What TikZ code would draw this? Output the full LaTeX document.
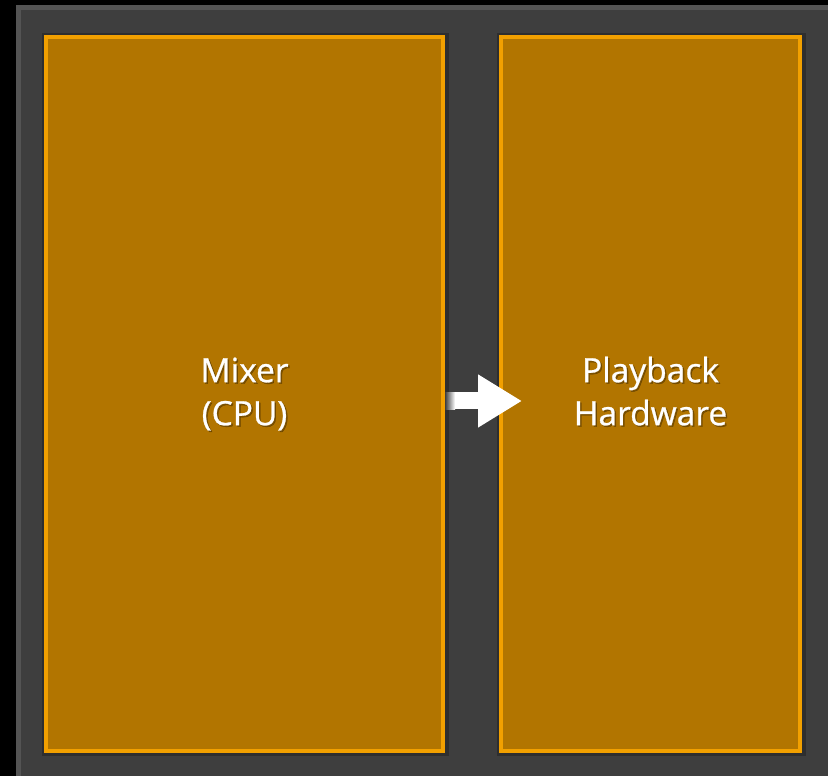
\documentclass[tikz,border=0pt]{standalone}
\usepackage{fontspec}
\setmainfont{Open Sans}
\newfontfamily\labelfont[FakeBold=0.8]{Open Sans}
\usetikzlibrary{arrows.meta}
\definecolor{panelgrey}{HTML}{3E3E3E}
\definecolor{paneledge}{HTML}{545454}
\definecolor{boxfill}{HTML}{B27500}
\definecolor{boxedge}{HTML}{F2A000}
\tikzset{
  unit/.style={draw=boxedge, fill=boxfill, line width=4pt, rectangle,
    minimum height=714pt, inner sep=0pt},
  caption/.style={align=center, inner sep=0pt, text height=30pt, text depth=55pt,
    font=\labelfont\fontsize{33.5}{43}\selectfont},
  flow/.style={draw=white, line width=17pt,
    -{Triangle[length=44pt,width=50pt]}},
}
\begin{document}
\begin{tikzpicture}[x=1pt,y=1pt]
  % black page and grey panel
  \fill[black] (0,0) rectangle (828,776);
  \useasboundingbox (0,0) rectangle (828,776);
  \fill[paneledge] (16,0) rectangle (828,771);
  \fill[panelgrey] (21,0) rectangle (828,766);
  % soft shadows behind the two units
  \fill[black, opacity=0.25] (42,20) rectangle (449,743);
  \fill[black, opacity=0.25] (497,20) rectangle (806,743);
  % the two units
  \node[unit, minimum width=397pt] (mix) at (244.5,382) {};
  \node[unit, minimum width=299pt] (play) at (650.5,382) {};
  % labels with a faint shadow
  \foreach \n/\t in {mix/{Mixer\\(CPU)}, play/{Playback\\Hardware}} {
    \node[caption, text=black, opacity=0.3, anchor=north]
      at ([shift={(1.5,-1.5)}]\n.center |- 0,381) {\t};
    \node[caption, text=white, anchor=north] (\n-label)
      at (\n.center |- 0,381) {\t};
  }
  % data flow from mixer to playback
  \coordinate (tip) at ([xshift=23pt]play.west |- 0,375);
  \draw[flow] (mix.east |- 0,375) -- (tip);
  \shade[left color=panelgrey, right color=white, draw=none]
    (mix.east |- 0,366.5) rectangle ([xshift=10pt]mix.east |- 0,383.5);
\end{tikzpicture}
\end{document}
